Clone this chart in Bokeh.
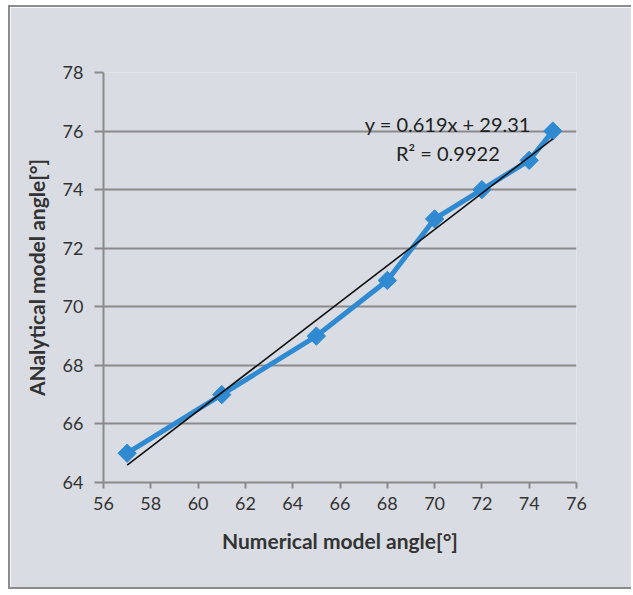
import math
from bokeh.plotting import figure
from bokeh.models import Range1d, FixedTicker, Label
from bokeh.embed import file_html
from bokeh.resources import INLINE

# data
numerical = [57, 61, 65, 68, 70, 72, 74, 75]
analytical = [65, 67, 69, 70.9, 73, 74, 75, 76]
fit_slope = 0.619
fit_intercept = 29.31
fit_text = ["y = 0.619x + 29.31", "R\u00b2 = 0.9922"]
x_ticks = [56, 58, 60, 62, 64, 66, 68, 70, 72, 74, 76]
y_ticks = [64, 66, 68, 70, 72, 74, 76, 78]

BG = "#d9dde3"
FONT = "Lato"

p = figure(width=623, height=584, output_backend="svg", toolbar_location=None,
           x_range=Range1d(56, 76), y_range=Range1d(64, 78),
           min_border_left=93, min_border_right=57, min_border_top=65, min_border_bottom=109)
p.background_fill_color = BG
p.border_fill_color = BG
p.outline_line_color = None
p.styles = {"margin-left": "8px", "margin-top": "5px",
            "border-left": "2px solid #8c8c8c", "border-top": "2px solid #8c8c8c",
            "border-bottom": "2px solid #8c8c8c"}

p.xgrid.grid_line_color = None
p.ygrid.grid_line_color = "#8a8a8a"
p.ygrid.grid_line_width = 2
p.xaxis.ticker = FixedTicker(ticks=x_ticks)
p.yaxis.ticker = FixedTicker(ticks=y_ticks)

for ax in (p.xaxis[0], p.yaxis[0]):
    ax.axis_line_color = "#8a8a8a"
    ax.axis_line_width = 2
    ax.major_tick_line_color = "#8a8a8a"
    ax.major_tick_line_width = 2
    ax.minor_tick_line_color = None
    ax.major_tick_in = 0
    ax.major_label_text_font = FONT
    ax.major_label_text_font_size = "18px"
    ax.major_label_text_color = "#333333"
    ax.axis_label_text_font = FONT
    ax.axis_label_text_font_size = "21px"
    ax.axis_label_text_font_style = "bold"
    ax.axis_label_text_color = "#333333"

p.xaxis.major_tick_out = 6
p.xaxis.major_label_standoff = 8
p.yaxis.major_tick_out = 9
p.yaxis.major_label_standoff = 11
p.xaxis.axis_label = "Numerical model angle[\u00b0]"
p.yaxis.axis_label = "ANalytical model angle[\u00b0]"
p.xaxis.axis_label_standoff = 15
p.yaxis.axis_label_standoff = 11

# data series
p.line(numerical, analytical, line_color="#2f8ad2", line_width=5)
p.scatter(numerical, analytical, marker="square", size=13, angle=math.pi / 4,
          fill_color="#2f8ad2", line_color="#2f8ad2")

# linear trendline
fx = [numerical[0], numerical[-1]]
fy = [fit_slope * v + fit_intercept for v in fx]
p.line(fx, fy, line_color="#111111", line_width=1.6)

p.add_layout(Label(x=70.56, y=76.24, text=fit_text[0], text_font=FONT,
                   text_font_size="20px", text_color="#222222",
                   text_align="center", text_baseline="middle"))
p.add_layout(Label(x=70.56, y=75.25, text=fit_text[1], text_font=FONT,
                   text_font_size="20px", text_color="#222222",
                   text_align="center", text_baseline="middle"))

open("out.html", "w").write(file_html(p, INLINE))
